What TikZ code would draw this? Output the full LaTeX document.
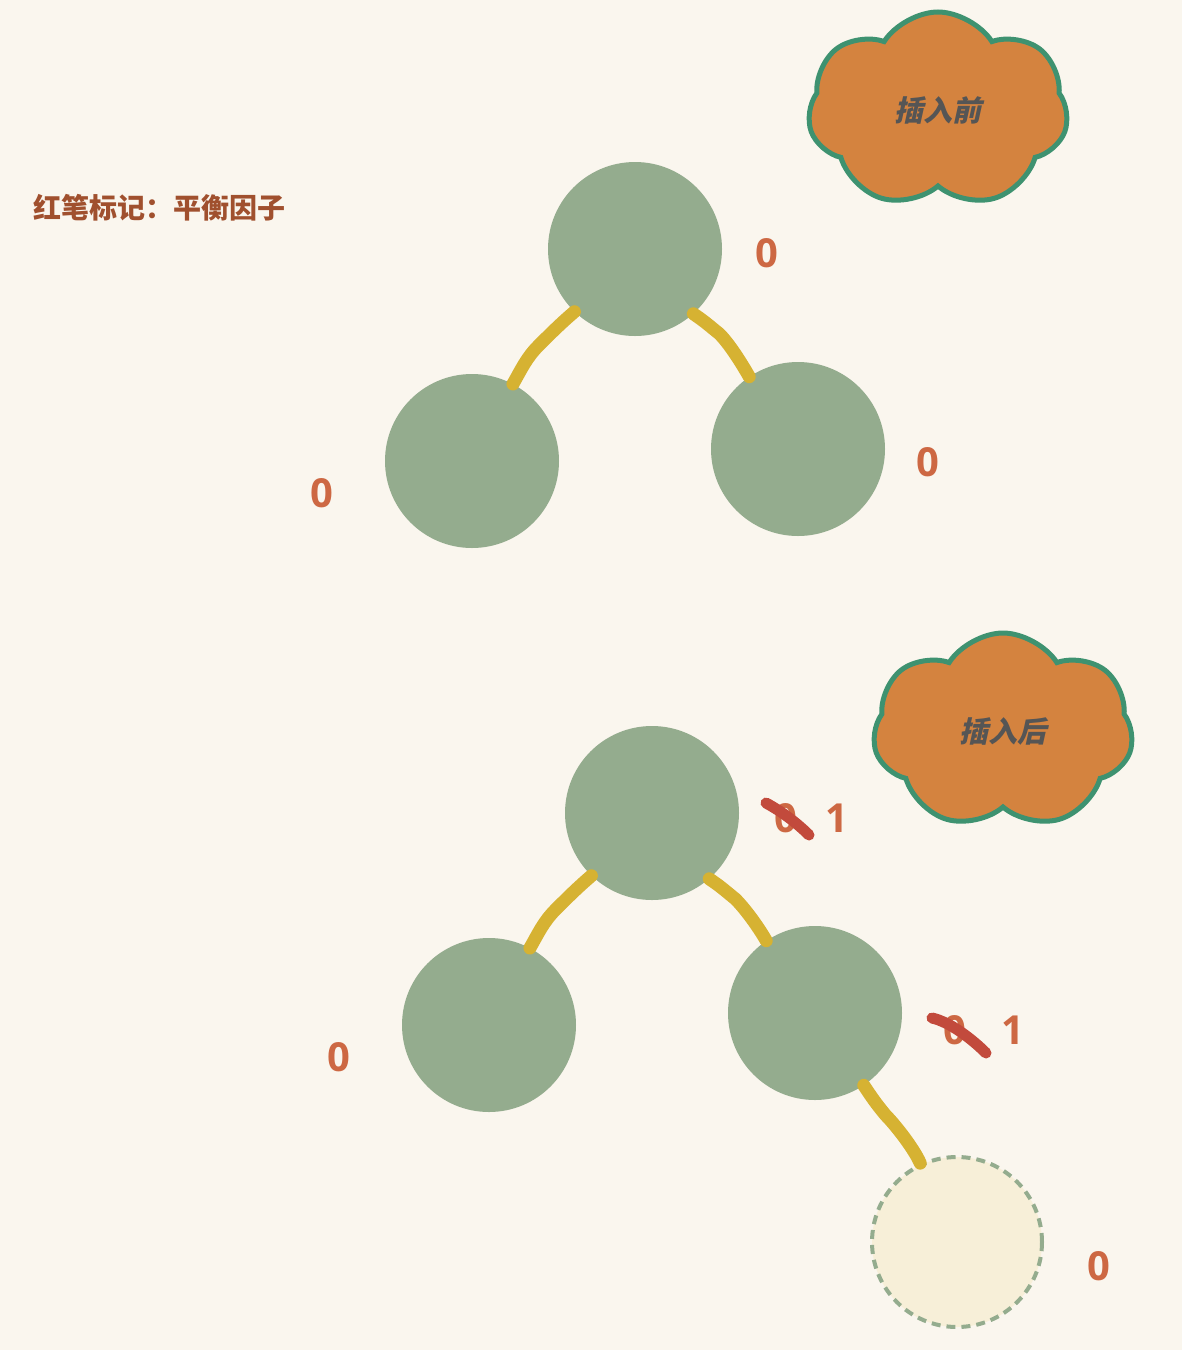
\documentclass[tikz,border=0pt]{standalone}
\usepackage{fontspec}
\setmainfont{Open Sans}
\newfontfamily\cjk{Noto Sans CJK SC}
\newfontfamily\cjkit{Noto Sans CJK SC}[FakeSlant=0.22]
\usetikzlibrary{shapes.symbols}
\definecolor{bgc}{HTML}{FAF6EE}
\definecolor{nodec}{HTML}{94AC8E}
\definecolor{newc}{HTML}{F7EFD8}
\definecolor{edgec}{HTML}{D6B232}
\definecolor{numc}{HTML}{CD6843}
\definecolor{strikec}{HTML}{C24A3C}
\definecolor{cloudf}{HTML}{D4833F}
\definecolor{cloudd}{HTML}{3E9270}
\definecolor{titlec}{HTML}{A0502E}
\definecolor{cloudt}{HTML}{555555}
\tikzset{
  tnode/.style={circle, fill=nodec, minimum size=174pt, inner sep=0pt},
  newnode/.style={circle, fill=newc, draw=nodec, line width=4pt, dash pattern=on 9pt off 6pt, minimum size=170pt, inner sep=0pt},
  treeedge/.style={draw=edgec, line width=13pt, line cap=round, line join=round},
  num/.style={font=\fontsize{40}{46}\selectfont\bfseries, text=numc, inner sep=0pt},
  strike/.style={draw=strikec, line width=11pt, line cap=round},
  cloudbox/.style={cloud, cloud puffs=7, cloud puff arc=115, aspect=1.3, fill=cloudf, draw=cloudd, line width=5pt, inner sep=0pt,
     font=\fontsize{29}{33}\selectfont\cjkit\bfseries, text=cloudt},
}
\begin{document}
\begin{tikzpicture}[x=1pt,y=-1pt]
\fill[bgc] (0,0) rectangle (1182,1350);
\useasboundingbox (0,0) rectangle (1182,1350);

% title
\node[anchor=west, inner sep=0pt, font=\fontsize{28}{32}\selectfont\cjk\bfseries, text=titlec] (title) at (33,208) {红笔标记：平衡因子};

% clouds
\node[cloudbox, minimum width=260pt, minimum height=196pt] (c1) at (938,110) {插入前};
\node[cloudbox, minimum width=260pt, minimum height=196pt] (c2) at (1003,731) {插入后};

% top tree
\node[tnode] (a1) at (635,249) {};
\node[tnode] (a2) at (472,461) {};
\node[tnode] (a3) at (798,449) {};
\draw[treeedge] (a1.-134) .. controls +(-14,12) and +(12,-12) .. ++(-36,34) .. controls +(-12,12) and +(8,-14) .. (a2.62);
\draw[treeedge] (a1.-48) .. controls +(12,8) and +(-10,-8) .. ++(26,20) .. controls +(10,10) and +(-8,-14) .. (a3.124);

\node[num] (na1) at (767,253) {0};
\node[num] (na2) at (322,493) {0};
\node[num] (na3) at (928,462) {0};

% bottom tree
\node[tnode] (b1) at (652,813) {};
\node[tnode] (b2) at (489,1025) {};
\node[tnode] (b3) at (815,1013) {};
\node[newnode] (b4) at (957,1242) {};
\draw[treeedge] (b1.-134) .. controls +(-14,12) and +(12,-12) .. ++(-36,34) .. controls +(-12,12) and +(8,-14) .. (b2.62);
\draw[treeedge] (b1.-49) .. controls +(12,8) and +(-10,-8) .. ++(26,20) .. controls +(10,10) and +(-8,-14) .. (b3.124);
\draw[treeedge] (b3.-56) .. controls +(8,12) and +(-10,-12) .. ++(22,30) .. controls +(10,10) and +(-6,-14) .. (b4.115);

\node[num] (nb1) at (786,818) {0};
\node[num] (nb1n) at (837,818) {1};
\node[num] (nb2) at (339,1057) {0};
\node[num] (nb3) at (955,1030) {0};
\node[num] (nb3n) at (1013,1030) {1};
\node[num] (nb4) at (1099,1266) {0};

\draw[strike] ([shift={(-20,-15)}]nb1.center) .. controls +(15,8) and +(-12,-12) .. ([shift={(23,17)}]nb1.center);
\draw[strike] ([shift={(-23,-12)}]nb3.center) .. controls +(18,4) and +(-14,-14) .. ([shift={(31,23)}]nb3.center);
\end{tikzpicture}
\end{document}
